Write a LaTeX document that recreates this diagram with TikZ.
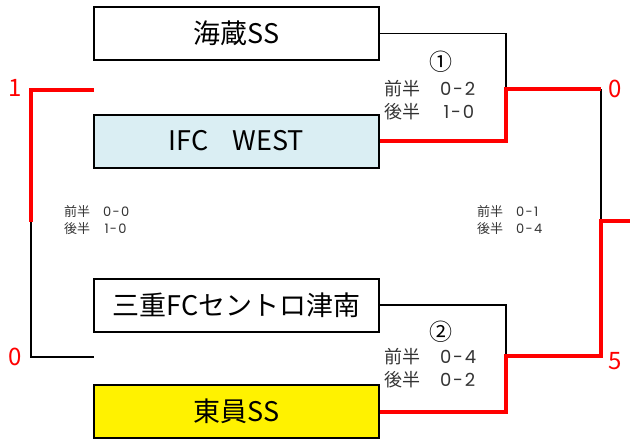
\documentclass[tikz,border=0pt]{standalone}
\usepackage{fontspec}
\setmainfont{Noto Sans CJK JP}
\newfontfamily\digitfont{Poppins}
\definecolor{paleblue}{RGB}{218,238,243}
\newcommand{\res}[2]{{\digitfont #1\hspace{0.1em}-\hspace{0.1em}#2}}
\begin{document}
\begin{tikzpicture}[x=1pt,y=-1pt,
  teambox/.style={draw,line width=2pt,minimum width=285pt,minimum height=53pt,inner sep=0pt,font=\fontsize{27}{30}\selectfont},
  blackline/.style={line width=1.6pt},
  redline/.style={red,line width=4pt},
  scoretext/.style={align=left,inner sep=0pt,text=black!80,font=\fontsize{18}{22.5}\selectfont},
  smallscore/.style={align=left,inner sep=0pt,text=black!80,font=\fontsize{13}{17}\selectfont},
  pointtext/.style={red,inner sep=0pt,font=\fontsize{24}{26}\selectfont}]
\useasboundingbox (0,0) rectangle (630,439);
% teams
\node[teambox] (kaizo) at (236.5,33.5) {海蔵SS};
\node[teambox,fill=paleblue] (ifc) at (236.5,141) {IFC\hspace{0.9em}WEST};
\node[teambox] (sento) at (236.5,305) {三重FCセントロ津南};
\node[teambox,fill=yellow] (toin) at (236.5,411.5) {東員SS};
% points of the bracket
\coordinate (w1) at (506,89);
\coordinate (w2) at (506,356);
\coordinate (f1) at (601,89);
\coordinate (f2) at (601,356);
\coordinate (fm) at (601,221);
\coordinate (fend) at (630,221);
\coordinate (la) at (94,90);
\coordinate (lb) at (31,90);
\coordinate (lm) at (31,222);
\coordinate (lc) at (31,357);
\coordinate (ld) at (94,357);
% black lines
\draw[blackline] (kaizo.east) -| (w1);
\draw[blackline] (sento.east) -| (w2);
\draw[blackline] (f1) -- (fm);
\draw[blackline] (lm) -- (lc) -- (ld);
% red lines
\draw[redline] (ifc.east) -| (w1) -- (f1);
\draw[redline] (toin.east) -| (w2) -- (f2) -- (fm) -- (fend);
\draw[redline] (la) -- (lb) -- (lm);
% scores
\node[inner sep=0pt,font=\fontsize{23}{23}\selectfont] (g1) at (441,62) {①};
\node[scoretext,anchor=west] (s1) at (384,100) {前半\hspace{1.1em}\res{0}{2}\\後半\hspace{1.3em}\res{1}{0}};
\node[inner sep=0pt,font=\fontsize{23}{23}\selectfont] (g2) at (441,332) {②};
\node[scoretext,anchor=west] (s2) at (384,368) {前半\hspace{1.1em}\res{0}{4}\\後半\hspace{1.1em}\res{0}{2}};
\node[smallscore,anchor=west] (s3) at (64,220) {前半\hspace{1em}\res{0}{0}\\後半\hspace{1.1em}\res{1}{0}};
\node[smallscore,anchor=west] (s4) at (477,220) {前半\hspace{1em}\res{0}{1}\\後半\hspace{1em}\res{0}{4}};
% goals
\node[pointtext] (p1) at (15,88) {1};
\node[pointtext] (p2) at (15,357) {0};
\node[pointtext] (p3) at (615,89) {0};
\node[pointtext] (p4) at (615,361) {5};
\end{tikzpicture}
\end{document}
